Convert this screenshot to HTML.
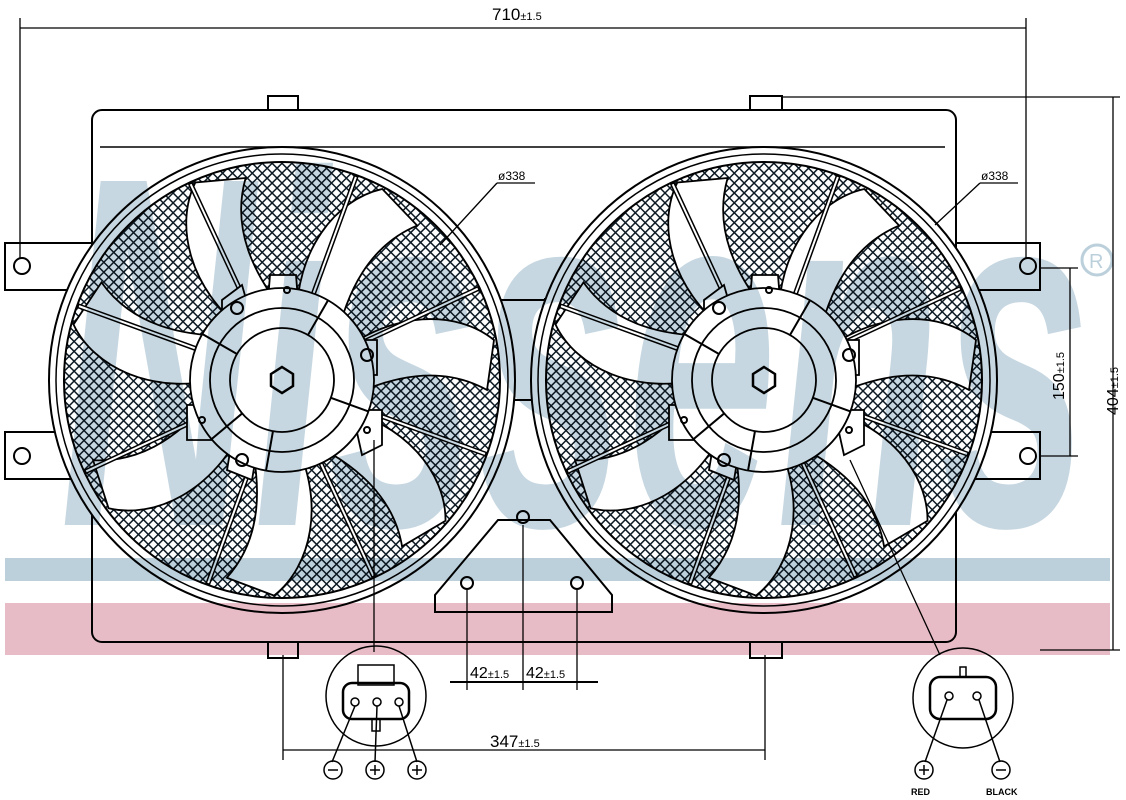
<!DOCTYPE html>
<html><head><meta charset="utf-8"><style>
html,body{margin:0;padding:0;background:#fff;}
svg{display:block;}
text{font-family:"Liberation Sans",sans-serif;fill:#000;}
</style></head><body>
<svg width="1126" height="800" viewBox="0 0 1126 800" xmlns="http://www.w3.org/2000/svg">
<defs>
<pattern id="mesh" width="7" height="7" patternUnits="userSpaceOnUse" patternTransform="rotate(45)">
<rect width="7" height="7" fill="#fff"/>
<path d="M0 0H7M0 0V7" stroke="#0d1a24" stroke-width="3"/>
</pattern>
<g id="fan">
<circle r="233" fill="#fff" stroke="#000" stroke-width="2"/>
<circle r="226" fill="none" stroke="#000" stroke-width="1.5"/>
<circle r="218" fill="url(#mesh)" stroke="#000" stroke-width="2"/>
<g fill="#fff" stroke="#000" stroke-width="1.8">
<path id="bl" d="M55,-25 C110,-70 175,-70 212,-40 L205,10 C160,-15 110,-5 60,20 Z"/>
<use href="#bl" transform="rotate(51.4)"/>
<use href="#bl" transform="rotate(102.8)"/>
<use href="#bl" transform="rotate(154.2)"/>
<use href="#bl" transform="rotate(205.6)"/>
<use href="#bl" transform="rotate(257)"/>
<use href="#bl" transform="rotate(308.4)"/>
</g>
<g stroke="#000" stroke-width="5">
<line x1="60" y1="0" x2="218" y2="0" transform="rotate(20)"/>
<line x1="60" y1="0" x2="218" y2="0" transform="rotate(65)"/>
<line x1="60" y1="0" x2="218" y2="0" transform="rotate(110)"/>
<line x1="60" y1="0" x2="218" y2="0" transform="rotate(155)"/>
<line x1="60" y1="0" x2="218" y2="0" transform="rotate(200)"/>
<line x1="60" y1="0" x2="218" y2="0" transform="rotate(245)"/>
<line x1="60" y1="0" x2="218" y2="0" transform="rotate(290)"/>
<line x1="60" y1="0" x2="218" y2="0" transform="rotate(335)"/>
</g>
<g stroke="#fff" stroke-width="2">
<line x1="60" y1="0" x2="216" y2="0" transform="rotate(20)"/>
<line x1="60" y1="0" x2="216" y2="0" transform="rotate(65)"/>
<line x1="60" y1="0" x2="216" y2="0" transform="rotate(110)"/>
<line x1="60" y1="0" x2="216" y2="0" transform="rotate(155)"/>
<line x1="60" y1="0" x2="216" y2="0" transform="rotate(200)"/>
<line x1="60" y1="0" x2="216" y2="0" transform="rotate(245)"/>
<line x1="60" y1="0" x2="216" y2="0" transform="rotate(290)"/>
<line x1="60" y1="0" x2="216" y2="0" transform="rotate(335)"/>
</g>
<g fill="#fff" stroke="#000" stroke-width="1.8">
<path d="M-12,-105 L14,-105 L16,-80 L-14,-80 Z"/>
<path d="M-60,-80 L-40,-95 L-30,-60 L-60,-55 Z"/>
<path d="M70,-40 L95,-40 L95,-5 L70,-5 Z"/>
<path d="M-95,25 L-75,25 L-70,60 L-95,60 Z"/>
<path d="M-50,60 L-25,70 L-30,100 L-55,90 Z"/>
<path d="M70,30 L100,30 L100,65 L80,75 Z"/>
<circle r="92"/>
<circle r="72"/>
<circle r="52"/>
<polygon points="0,-13 11,-6 11,6 0,13 -11,6 -11,-6" stroke-width="2.5"/>
</g>
<g fill="none" stroke="#000" stroke-width="2">
<circle cx="-45" cy="-72" r="6"/><circle cx="85" cy="-25" r="6"/><circle cx="-40" cy="80" r="6"/>
<circle cx="5" cy="-90" r="3"/><circle cx="-80" cy="40" r="3"/><circle cx="85" cy="50" r="3"/>
<line x1="-92" y1="0" x2="-52" y2="0" transform="rotate(-40)"/>
<line x1="-92" y1="0" x2="-52" y2="0" transform="rotate(30)"/>
<line x1="52" y1="0" x2="92" y2="0" transform="rotate(20)"/>
<line x1="52" y1="0" x2="92" y2="0" transform="rotate(-60)"/>
<line x1="52" y1="0" x2="92" y2="0" transform="rotate(100)"/>
</g>
</g>
</defs>

<g fill="#fff" stroke="#000" stroke-width="2">
<rect x="268" y="96" width="30" height="16"/><rect x="750" y="96" width="32" height="16"/>
<rect x="268" y="640" width="30" height="18"/><rect x="750" y="640" width="32" height="18"/>
<rect x="5" y="243" width="90" height="47"/><rect x="5" y="432" width="90" height="47"/>
<rect x="950" y="243" width="90" height="47"/><rect x="950" y="432" width="90" height="47"/>
<rect x="92" y="110" width="864" height="532" rx="10"/>
</g>
<line x1="100" y1="147" x2="945" y2="147" stroke="#000" stroke-width="1.5"/>
<g fill="none" stroke="#000" stroke-width="2">
<circle cx="22" cy="266" r="8"/><circle cx="22" cy="456" r="8"/>
<circle cx="1028" cy="266" r="8"/><circle cx="1028" cy="456" r="8"/>
<path d="M500,300 H545 M500,400 H545 M500,298 V402 M545,298 V402"/>
<path d="M435,595 L498,520 H550 L612,595 V612 H435 Z"/>
<circle cx="467" cy="583" r="6"/><circle cx="523" cy="517" r="6"/><circle cx="577" cy="583" r="6"/>
</g>

<use href="#fan" x="282" y="380"/>
<use href="#fan" x="764" y="380"/>

<rect x="5" y="558" width="1105" height="23" fill="#bcd0dc" style="mix-blend-mode:multiply"/>
<rect x="5" y="603" width="1105" height="52" fill="#e8bcc6" style="mix-blend-mode:multiply"/>

<text x="60" y="525" font-size="500" font-style="italic" font-weight="bold" textLength="1030" lengthAdjust="spacingAndGlyphs" style="fill:#bcd0dc;mix-blend-mode:multiply;opacity:.85">Nissens</text>
<circle cx="1097" cy="260" r="15" fill="none" stroke="#bcd0dc" stroke-width="3"/>
<text x="1089" y="268" font-size="20" style="fill:#bcd0dc">R</text>

<g stroke="#000" stroke-width="1.3" fill="none">
<line x1="20" y1="28" x2="1026" y2="28"/>
<line x1="20" y1="18" x2="20" y2="258"/><line x1="1026" y1="18" x2="1026" y2="258"/>
<line x1="782" y1="97" x2="1120" y2="97"/><line x1="1040" y1="650" x2="1120" y2="650"/>
<line x1="1113" y1="97" x2="1113" y2="650"/>
<line x1="1040" y1="268" x2="1078" y2="268"/><line x1="1040" y1="456" x2="1078" y2="456"/>
<line x1="1070" y1="268" x2="1070" y2="456"/>
<line x1="283" y1="655" x2="283" y2="760"/><line x1="765" y1="655" x2="765" y2="760"/>
<line x1="283" y1="750" x2="765" y2="750"/>
<line x1="467" y1="590" x2="467" y2="690"/><line x1="523" y1="525" x2="523" y2="690"/><line x1="577" y1="590" x2="577" y2="690"/>
<line x1="450" y1="682" x2="598" y2="682" stroke-width="2"/>
<line x1="497" y1="183" x2="440" y2="245"/><line x1="497" y1="183" x2="535" y2="183"/>
<line x1="980" y1="183" x2="935" y2="225"/><line x1="980" y1="183" x2="1018" y2="183"/>
<line x1="374" y1="440" x2="374" y2="652"/>
<line x1="850" y1="460" x2="940" y2="655"/>
</g>
<text x="492" y="20" font-size="17">710<tspan font-size="11">±1.5</tspan></text>
<text x="498" y="180" font-size="12">ø338</text>
<text x="981" y="180" font-size="12">ø338</text>
<text transform="translate(1118,415) rotate(-90)" font-size="16">404<tspan font-size="11">±1.5</tspan></text>
<text transform="translate(1064,400) rotate(-90)" font-size="16">150<tspan font-size="11">±1.5</tspan></text>
<text x="470" y="678" font-size="16">42<tspan font-size="11">±1.5</tspan></text>
<text x="526" y="678" font-size="16">42<tspan font-size="11">±1.5</tspan></text>
<text x="490" y="747" font-size="17">347<tspan font-size="11">±1.5</tspan></text>

<g fill="none" stroke="#000" stroke-width="1.5">
<circle cx="376" cy="696" r="50"/>
<rect x="358" y="665" width="36" height="20"/>
<rect x="343" y="683" width="66" height="36" rx="9" stroke-width="2.5"/>
<rect x="372" y="719" width="8" height="12"/>
<circle cx="355" cy="702" r="4"/><circle cx="377" cy="702" r="4"/><circle cx="399" cy="702" r="4"/>
<line x1="355" y1="706" x2="332" y2="762"/><line x1="377" y1="706" x2="375" y2="762"/><line x1="399" y1="706" x2="417" y2="762"/>
<circle cx="333" cy="770" r="9"/><circle cx="375" cy="770" r="9"/><circle cx="417" cy="770" r="9"/>
<path d="M328,770H338M370,770H380M375,765V775M412,770H422M417,765V775"/>
<circle cx="963" cy="698" r="50"/>
<rect x="930" y="677" width="66" height="42" rx="10" stroke-width="2.5"/>
<rect x="960" y="667" width="6" height="10"/>
<circle cx="949" cy="696" r="4"/><circle cx="977" cy="696" r="4"/>
<line x1="947" y1="700" x2="925" y2="762"/><line x1="979" y1="700" x2="1000" y2="762"/>
<circle cx="924" cy="770" r="9"/><circle cx="1001" cy="770" r="9"/>
<path d="M919,770H929M924,765V775M996,770H1006"/>
</g>
<text x="911" y="795" font-size="9" font-weight="bold">RED</text>
<text x="986" y="795" font-size="9" font-weight="bold">BLACK</text>
</svg>
</body></html>
